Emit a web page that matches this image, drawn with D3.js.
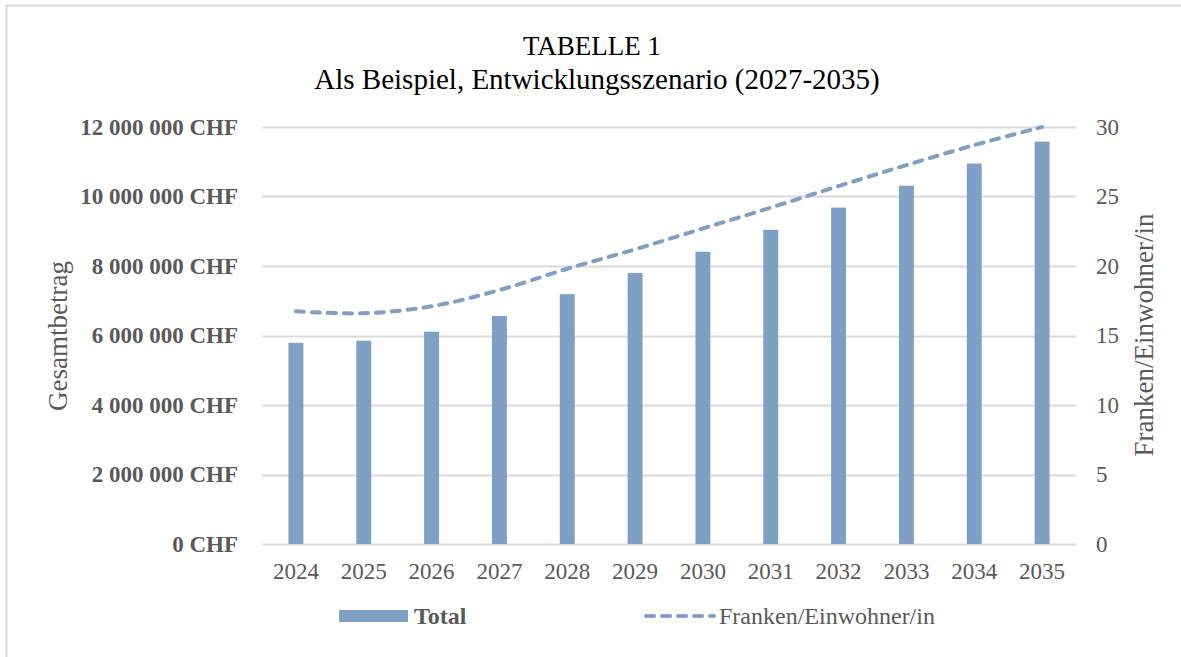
<!DOCTYPE html>
<html lang="de">
  <head>
    <meta charset="UTF-8">
    <title>Tabelle 1</title>
    <style>
      body { margin: 0; background: #fff; }
      text { font-family: "Liberation Serif", "Times New Roman", serif; }
    </style>
  </head>
  <body>
    <div id="chart"></div>
    <script src="https://d3js.org/d3.v7.js"></script>
    <script>
      // data
      var years = ["2024", "2025", "2026", "2027", "2028", "2029", "2030", "2031", "2032", "2033", "2034", "2035"];
      var total = [5790000, 5850000, 6110000, 6560000, 7190000, 7800000, 8410000, 9040000, 9680000, 10310000, 10950000, 11580000];
      var perHead = [16.74, 16.6, 17.1, 18.27, 19.8, 21.2, 22.7, 24.2, 25.75, 27.26, 28.7, 30.0];
      var leftTicks = [0, 2000000, 4000000, 6000000, 8000000, 10000000, 12000000];
      var rightTicks = [0, 5, 10, 15, 20, 25, 30];

      var W = 1181, H = 657;
      var margin = {top: 127, right: 105, bottom: 113, left: 262},
          width = W - margin.left - margin.right,
          height = H - margin.top - margin.bottom;

      var grey = "#595959", blue = "#7f9fc4";

      var svg = d3.select("#chart")
        .append("svg")
          .attr("width", W)
          .attr("height", H);

      // outer frame
      svg.append("rect")
        .attr("x", 6.5).attr("y", 5.5)
        .attr("width", 1300).attr("height", 800)
        .attr("fill", "none")
        .attr("stroke", "#d9d9d9")
        .attr("stroke-width", 2);

      // title
      svg.append("text")
        .attr("x", 592).attr("y", 55)
        .attr("text-anchor", "middle")
        .style("font-size", "27px")
        .attr("fill", "#000")
        .text("TABELLE 1");
      svg.append("text")
        .attr("x", 597).attr("y", 89)
        .attr("text-anchor", "middle")
        .style("font-size", "29px")
        .attr("fill", "#000")
        .text("Als Beispiel, Entwicklungsszenario (2027-2035)");

      var g = svg.append("g")
        .attr("transform", "translate(" + margin.left + "," + margin.top + ")");

      var x = d3.scaleBand()
        .domain(years)
        .range([0, width])
        .padding(0);

      var y = d3.scaleLinear()
        .domain([0, 12000000])
        .range([height, 0]);

      var y2 = d3.scaleLinear()
        .domain([0, 30])
        .range([height, 0]);

      // gridlines
      g.append("g")
        .selectAll("line")
        .data(leftTicks)
        .enter()
        .append("line")
          .attr("x1", 0)
          .attr("x2", width)
          .attr("y1", function(d){ return Math.round(y(d)) + 0.5 })
          .attr("y2", function(d){ return Math.round(y(d)) + 0.5 })
          .attr("stroke", "#d9d9d9")
          .attr("stroke-width", 2);

      // left axis
      var fmt = function(d){ return d3.format(",")(d).replace(/,/g, " ") + " CHF" };
      var yAxis = g.append("g")
        .attr("transform", "translate(-21,0)")
        .call(d3.axisLeft(y).tickValues(leftTicks).tickFormat(fmt).tickSize(0));
      yAxis.select(".domain").remove();
      yAxis.selectAll("text")
        .attr("fill", grey)
        .style("font-size", "23px")
        .style("font-weight", "bold")
        .style("font-family", "'Liberation Serif', serif");

      // right axis
      var y2Axis = g.append("g")
        .attr("transform", "translate(" + (width + 17) + ",0)")
        .call(d3.axisRight(y2).tickValues(rightTicks).tickSize(0));
      y2Axis.select(".domain").remove();
      y2Axis.selectAll("text")
        .attr("fill", grey)
        .style("font-size", "23px")
        .style("font-family", "'Liberation Serif', serif");

      // x axis
      var xAxis = g.append("g")
        .attr("transform", "translate(0," + (height + 16) + ")")
        .call(d3.axisBottom(x).tickSize(0));
      xAxis.select(".domain").remove();
      xAxis.selectAll("text")
        .attr("fill", grey)
        .style("font-size", "23px")
        .style("font-family", "'Liberation Serif', serif");

      // axis titles
      svg.append("text")
        .attr("transform", "translate(67,336) rotate(-90)")
        .attr("text-anchor", "middle")
        .attr("fill", grey)
        .style("font-size", "27px")
        .text("Gesamtbetrag");
      svg.append("text")
        .attr("transform", "translate(1153,335) rotate(-90)")
        .attr("text-anchor", "middle")
        .attr("fill", grey)
        .style("font-size", "27px")
        .text("Franken/Einwohner/in");

      // bars
      var bw = x.bandwidth() * 0.22;
      g.selectAll("rect.bar")
        .data(total)
        .enter()
        .append("rect")
          .attr("class", "bar")
          .attr("x", function(d, i){ return x(years[i]) + x.bandwidth() / 2 - bw / 2 })
          .attr("y", function(d){ return y(d) })
          .attr("width", bw)
          .attr("height", function(d){ return height - y(d) })
          .attr("fill", blue);

      // line
      var line = d3.line()
        .x(function(d, i){ return x(years[i]) + x.bandwidth() / 2 })
        .y(function(d){ return y2(d) })
        .curve(d3.curveCardinal.tension(0));
      g.append("path")
        .datum(perHead)
        .attr("d", line)
        .attr("fill", "none")
        .attr("stroke", blue)
        .attr("stroke-width", 4)
        .attr("stroke-linecap", "round")
        .attr("stroke-dasharray", "8,8");

      // legend
      var leg = svg.append("g");
      leg.append("rect")
        .attr("x", 339).attr("y", 610)
        .attr("width", 69).attr("height", 12)
        .attr("fill", blue);
      leg.append("text")
        .attr("x", 414).attr("y", 624)
        .attr("fill", grey)
        .style("font-size", "24px")
        .style("font-weight", "bold")
        .text("Total");
      leg.append("line")
        .attr("x1", 646).attr("x2", 714)
        .attr("y1", 616).attr("y2", 616)
        .attr("stroke", blue)
        .attr("stroke-width", 4)
        .attr("stroke-linecap", "round")
        .attr("stroke-dasharray", "8,8");
      leg.append("text")
        .attr("x", 719).attr("y", 624)
        .attr("fill", grey)
        .style("font-size", "24px")
        .text("Franken/Einwohner/in");
    </script>
  </body>
</html>
